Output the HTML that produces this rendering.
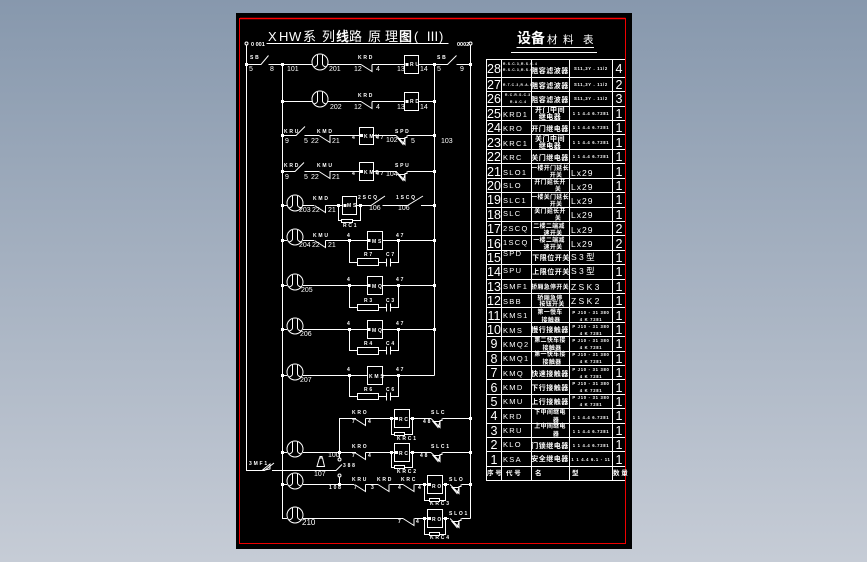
<!DOCTYPE html>
<html><head><meta charset="utf-8"><style>
html,body{margin:0;padding:0;width:867px;height:562px;overflow:hidden;background:linear-gradient(#8798ad,#c6ccd6)}
svg{display:block;position:absolute;left:0;top:0}
.l{fill:none;stroke:#fff;stroke-width:1}
text{fill:#fff;font-family:"Liberation Sans","Noto Sans CJK SC",sans-serif}
.s{font-size:5px;font-weight:bold;letter-spacing:1.8px;word-spacing:-3.200px}
.w{font-size:7px}
.n{font-size:12.500px;text-anchor:middle}
.c{font-size:7.500px;letter-spacing:1.300px}
.t{font-size:7px;font-weight:bold;text-anchor:middle;letter-spacing:.5px}
.a{font-size:6px;letter-spacing:.3px}
.y{font-size:4.200px;font-weight:bold;letter-spacing:.7px;text-anchor:middle}
.m{font-size:8.500px;letter-spacing:1px;word-spacing:-2px}
</style></head><body>
<svg width="867" height="562" viewBox="0 0 867 562">
<defs>
<g id="o" class="l"><circle cx="0" cy="0" r="8"/><path d="M-2.500-7V2Q-2.500 4-6 5M2.500-7V2Q2.500 4 6 5"/></g>
<g id="nc" class="l"><path d="M0 0L11 7V0"/></g>
<g id="ar" class="l"><path d="M0 0L9 9V2H11V0M2 3L9 3L7 9Z"/></g>
<rect id="d" x="-1.500" y="-1.500" width="3" height="3" fill="#fff"/>
</defs>
<rect x="236" y="13" width="396" height="536" fill="#000"/>
<path d="M239.500 18.500H625.500V543.500H239.500Z" fill="none" stroke="#e00" stroke-width="1"/>
<path d="M240 18.500H625.500" stroke="#f00" stroke-width="1.500"/>

<text font-size="13" y="41" x="268 279 289 303 322 336 349 368 385 399 414 426 439">XHW系列<tspan font-weight="bold">线</tspan>路原理<tspan font-weight="bold">图</tspan>(Ⅲ)</text>
<path class="l" d="M266.500 43.500H448.500"/>
<text x="251" y="46" style="font-size:5.500px;font-weight:bold">0 001</text>
<text x="457" y="46" style="font-size:5.500px;font-weight:bold">0002</text>
<g class="l">
<circle cx="246.500" cy="43.500" r="1.500"/><circle cx="470.500" cy="43.500" r="1.500"/>
<path d="M246.500 45V470.500H264.500L274 463M272 470.500H336L342 464.500"/>
<path d="M282.500 64V518.500H287"/>
<path d="M434.500 64V375.500"/>
<path d="M470.500 45V518.500"/>
<!-- row1 -->
<path d="M246.500 64.500H261L268.500 55.500M268.500 64.500H312M328 64.500H361M372 64.500H404M418.500 64.500H447.500L456.500 55.500M456.500 64.500H470.500"/>
<rect x="404.500" y="55.500" width="14" height="18"/>
<!-- row2 -->
<path d="M282.500 101.500H312M328 101.500H361M372 101.500H404M418.500 101.500H434.500"/>
<rect x="404.500" y="92.500" width="14" height="18"/>
<!-- row3 -->
<path d="M282.500 135.500H296L305 126.500M304.500 135.500H319M329.500 135.500H359M373.500 135.500H396M407.500 135.500H434.500"/>
<rect x="359.500" y="127.500" width="14" height="17"/>
<!-- row4 -->
<path d="M282.500 171.500H295L304 162.500M304.500 171.500H319M329.500 171.500H359M373.500 171.500H396M407.500 171.500H434.500"/>
<rect x="359.500" y="162.500" width="14" height="18"/>
<!-- row5 -->
<path d="M282.500 205.500H287M303 205.500H314M325.500 205.500H342M356.500 205.500H371L385 196M382.500 205.500H407.500L423 196M421 205.500H434.500"/>
<rect x="342.500" y="196.500" width="14" height="18"/>
<path d="M338.500 205.500V220.500H360.500V205.500"/>
<rect x="341.500" y="219.500" width="11" height="3" fill="#000"/>
<!-- row6 -->
<path d="M282.500 240.500H287M303 240.500H314M325.500 240.500H367M382.500 240.500H434.500M349.500 240.500V262.500H357.500M378.500 262.500H386.500M390.500 262.500H398.500V240.500M386.500 258.500V266.500M390.500 258.500V266.500"/>
<rect x="367.500" y="231.500" width="15" height="18"/><rect x="357.500" y="258.500" width="21" height="7"/>
<!-- row7 -->
<path d="M282.500 285.500H287M303 285.500H367M382.500 285.500H434.500M349.500 285.500V307.500H357.500M378.500 307.500H386.500M390.500 307.500H398.500V285.500M386.500 303.500V311.500M390.500 303.500V311.500"/>
<rect x="367.500" y="276.500" width="15" height="18"/><rect x="357.500" y="304.500" width="21" height="6"/>
<!-- row8 -->
<path d="M282.500 329.500H287M303 329.500H367M382.500 329.500H434.500M349.500 329.500V350.500H357.500M378.500 350.500H386.500M390.500 350.500H398.500V329.500M386.500 346.500V354.500M390.500 346.500V354.500"/>
<rect x="367.500" y="320.500" width="15" height="18"/><rect x="357.500" y="347.500" width="21" height="7"/>
<!-- row9 -->
<path d="M282.500 375.500H287M303 375.500H367M382.500 375.500H434.500M349.500 375.500V396.500H357.500M378.500 396.500H386.500M390.500 396.500H398.500V375.500M386.500 392.500V400.500M390.500 392.500V400.500"/>
<rect x="367.500" y="366.500" width="15" height="18"/><rect x="357.500" y="393.500" width="21" height="6"/>
<!-- row10 -->
<path d="M339.500 452V418.500H356M365.500 418.500H394M409.500 418.500H431M442.500 418.500H470.500"/>
<rect x="394.500" y="409.500" width="15" height="18"/>
<path d="M391.500 418.500V434.500H412.500V418.500"/><rect x="394.500" y="432.500" width="10" height="3" fill="#000"/>
<!-- row11 -->
<path d="M282.500 452.500H287M303 452.500H356M365.500 452.500H394M409.500 452.500H431M442.500 452.500H470.500"/>
<rect x="394.500" y="443.500" width="15" height="18"/>
<path d="M391.500 452.500V467.500H412.500V452.500"/><rect x="394.500" y="465.500" width="10" height="3" fill="#000"/>
<path d="M339.500 452V458M339.500 477V484.500"/>
<circle cx="339.500" cy="459.500" r="1.500"/><circle cx="339.500" cy="475.500" r="1.500"/>
<path d="M317 466.500H324.500L322.500 458H319.500ZM320 458V456.500H322V458"/>
<!-- row12 -->
<path d="M282.500 484.500H287M303 484.500H354M365.500 484.500H378M389.500 484.500H403M414.500 484.500H427M442.500 484.500H449M461.500 484.500H470.500"/>
<rect x="427.500" y="475.500" width="15" height="18"/>
<path d="M424.500 484.500V500.500H445.500V484.500"/><rect x="429.500" y="498.500" width="10" height="3" fill="#000"/>
<!-- row13 -->
<path d="M303 518.500H403M414.500 518.500H427M442.500 518.500H449M461.500 518.500H470.500"/>
<rect x="427.500" y="509.500" width="15" height="18"/>
<path d="M424.500 518.500V534.500H445.500V518.500"/><rect x="429.500" y="532.500" width="10" height="3" fill="#000"/>
<path d="M262 470.500L270 464L270 469Z"/>
</g>
<use href="#o" x="320" y="62"/><use href="#o" x="320" y="99"/>
<use href="#o" x="295" y="203"/><use href="#o" x="295" y="237"/><use href="#o" x="295" y="282"/><use href="#o" x="295" y="326"/><use href="#o" x="295" y="372"/><use href="#o" x="295" y="449"/><use href="#o" x="295" y="481"/><use href="#o" x="295" y="515"/>
<use href="#nc" x="361" y="64.500"/><use href="#nc" x="361" y="101.500"/>
<use href="#nc" x="319" y="135.500"/><use href="#nc" x="319" y="171.500"/><use href="#nc" x="314.500" y="205.500"/><use href="#nc" x="314.500" y="240.500"/>
<use href="#nc" x="354.500" y="418.500"/><use href="#nc" x="354.500" y="452.500"/><use href="#nc" x="354.500" y="484.500"/><use href="#nc" x="378" y="484.500"/><use href="#nc" x="403" y="484.500"/><use href="#nc" x="403" y="518.500"/>
<use href="#ar" x="396" y="135.500"/><use href="#ar" x="396" y="171.500"/><use href="#ar" x="431" y="418.500"/><use href="#ar" x="431" y="452.500"/><use href="#ar" x="450" y="484.500"/><use href="#ar" x="450" y="518.500"/>
<g fill="#fff">
<use href="#d" x="246.500" y="64.500"/><use href="#d" x="282.500" y="64.500"/><use href="#d" x="434.500" y="64.500"/><use href="#d" x="470.500" y="64.500"/>
<use href="#d" x="282.500" y="101.500"/><use href="#d" x="434.500" y="101.500"/><use href="#d" x="282.500" y="135.500"/><use href="#d" x="434.500" y="135.500"/><use href="#d" x="282.500" y="171.500"/><use href="#d" x="434.500" y="171.500"/>
<use href="#d" x="282.500" y="205.500"/><use href="#d" x="434.500" y="205.500"/><use href="#d" x="282.500" y="240.500"/><use href="#d" x="434.500" y="240.500"/><use href="#d" x="282.500" y="285.500"/><use href="#d" x="434.500" y="285.500"/><use href="#d" x="282.500" y="329.500"/><use href="#d" x="434.500" y="329.500"/><use href="#d" x="282.500" y="375.500"/>
<use href="#d" x="349.500" y="240.500"/><use href="#d" x="398.500" y="240.500"/><use href="#d" x="349.500" y="285.500"/><use href="#d" x="398.500" y="285.500"/><use href="#d" x="349.500" y="329.500"/><use href="#d" x="398.500" y="329.500"/><use href="#d" x="349.500" y="375.500"/><use href="#d" x="398.500" y="375.500"/>
<use href="#d" x="338.500" y="205.500"/><use href="#d" x="360.500" y="205.500"/>
<use href="#d" x="470.500" y="418.500"/><use href="#d" x="470.500" y="452.500"/><use href="#d" x="470.500" y="484.500"/><use href="#d" x="282.500" y="452.500"/><use href="#d" x="282.500" y="484.500"/><use href="#d" x="339.500" y="452.500"/><use href="#d" x="339.500" y="484.500"/>
<use href="#d" x="391.500" y="418.500"/><use href="#d" x="412.500" y="418.500"/><use href="#d" x="391.500" y="452.500"/><use href="#d" x="412.500" y="452.500"/><use href="#d" x="424.500" y="484.500"/><use href="#d" x="445.500" y="484.500"/><use href="#d" x="424.500" y="518.500"/><use href="#d" x="445.500" y="518.500"/>
<use href="#d" x="407" y="64.500"/><use href="#d" x="407" y="101.500"/><use href="#d" x="361.500" y="135.500"/><use href="#d" x="361.500" y="171.500"/><use href="#d" x="345" y="205.500"/><use href="#d" x="369" y="240.500"/><use href="#d" x="369" y="285.500"/><use href="#d" x="369" y="329.500"/><use href="#d" x="396.500" y="418.500"/><use href="#d" x="396.500" y="452.500"/><use href="#d" x="429.500" y="484.500"/><use href="#d" x="429.500" y="518.500"/>
</g>
<!-- circuit labels -->
<g class="s">
<text x="250" y="59">S B</text><text x="358" y="59">K R D</text><text x="410" y="66">R U</text><text x="437" y="59">S B</text>
<text x="358" y="97">K R D</text><text x="410" y="103">R D</text>
<text x="284" y="133">K R U</text><text x="317" y="133">K M D</text><text x="364" y="138">K M U</text><text x="395" y="133">S P D</text>
<text x="284" y="167">K R D</text><text x="317" y="167">K M U</text><text x="364" y="174">K M D</text><text x="395" y="167">S P U</text>
<text x="352" y="139">4</text><text x="376" y="139">4 7</text><text x="352" y="175">4</text><text x="376" y="175">4 7</text>
<text x="313" y="200">K M D</text><text x="347" y="207">M S</text><text x="358" y="199">2 S C Q</text><text x="396" y="199">1 S C Q</text><text x="343" y="227">R C 1</text>
<text x="313" y="237">K M U</text><text x="372" y="243">M S</text><text x="347" y="237">4</text><text x="396" y="237">4 7</text><text x="364" y="256">R 7</text><text x="386" y="256">C 7</text>
<text x="372" y="288">M Q</text><text x="347" y="281">4</text><text x="396" y="281">4 7</text><text x="364" y="302">R 3</text><text x="386" y="302">C 3</text>
<text x="372" y="332">M Q</text><text x="347" y="325">4</text><text x="396" y="325">4 7</text><text x="364" y="345">R 4</text><text x="386" y="345">C 4</text>
<text x="369" y="378">K M S</text><text x="347" y="371">4</text><text x="396" y="371">4 7</text><text x="364" y="391">R 6</text><text x="386" y="391">C 6</text>
<text x="352" y="414">K R O</text><text x="399" y="421">R C</text><text x="431" y="414">S L C</text><text x="397" y="440">K R C 1</text>
<text x="352" y="448">K R O</text><text x="399" y="455">R C</text><text x="431" y="448">S L C 1</text><text x="397" y="473">K R C 2</text>
<text x="352" y="481">K R U</text><text x="377" y="481">K R D</text><text x="401" y="481">K R C</text><text x="432" y="488">R O</text><text x="449" y="481">S L O</text><text x="430" y="505">K R C 3</text>
<text x="432" y="521">R O</text><text x="449" y="515">S L O 1</text><text x="430" y="539">K R C 4</text>
<text x="249" y="465">3 M F 1</text><text x="343" y="467">3 8 8</text><text x="329" y="489">1 0 8</text>
<text x="352" y="423">7</text><text x="368" y="423">4</text><text x="352" y="457">7</text><text x="368" y="457">4</text><text x="354" y="489">7</text><text x="371" y="489">3</text><text x="398" y="489">4</text><text x="418" y="489">4</text><text x="398" y="523">7</text><text x="416" y="523">4</text>
<text x="423" y="423">4 8</text><text x="420" y="457">4 8</text>
</g>
<g class="w">
<text x="249" y="71">5</text><text x="270" y="71">8</text><text x="287" y="71">101</text><text x="329" y="71">201</text><text x="354" y="71">12</text><text x="376" y="71">4</text><text x="397" y="71">13</text><text x="420" y="71">14</text><text x="437" y="71">5</text><text x="460" y="71">9</text>
<text x="330" y="109">202</text><text x="354" y="109">12</text><text x="376" y="109">4</text><text x="397" y="109">13</text><text x="420" y="109">14</text>
<text x="285" y="143">9</text><text x="304" y="143">5</text><text x="311" y="143">22</text><text x="332" y="143">21</text><text x="386" y="142">102</text><text x="411" y="143">5</text><text x="441" y="143">103</text>
<text x="285" y="179">9</text><text x="304" y="179">5</text><text x="311" y="179">22</text><text x="332" y="179">21</text><text x="386" y="176">104</text>
<text x="299" y="212">203</text><text x="312" y="212">22</text><text x="328" y="212">21</text><text x="369" y="210">106</text><text x="398" y="210">106</text>
<text x="299" y="247">204</text><text x="312" y="247">22</text><text x="328" y="247">21</text>
<text x="301" y="292">205</text><text x="300" y="336">206</text><text x="300" y="382">207</text>
<text x="328" y="457">100</text><text x="314" y="476">107</text><text x="302" y="525" style="font-size:8px">210</text>
</g>

<!-- table -->
<text y="43" font-size="14" font-weight="bold" x="517 531">设备</text><text y="43" font-size="10.500" x="547 563 583">材料表</text>
<path class="l" d="M516.500 47.500H594M511 52.500H597"/>
<g class="l">
<path d="M486.500 59.500H625.500M486.500 77.500H625.500M486.500 91.500H625.500M486.500 106.500H625.500M486.500 120.500H625.500M486.500 134.500H625.500M486.500 149.500H625.500M486.500 163.500H625.500M486.500 178.500H625.500M486.500 192.500H625.500M486.500 207.500H625.500M486.500 221.500H625.500M486.500 235.500H625.500M486.500 250.500H625.500M486.500 264.500H625.500M486.500 279.500H625.500M486.500 293.500H625.500M486.500 307.500H625.500M486.500 322.500H625.500M486.500 336.500H625.500M486.500 351.500H625.500M486.500 365.500H625.500M486.500 379.500H625.500M486.500 394.500H625.500M486.500 408.500H625.500M486.500 423.500H625.500M486.500 437.500H625.500M486.500 451.500H625.500M486.500 466.500H625.500M486.500 480.500H625.500"/>
<path d="M486.500 59V481M501.500 59V481M531.500 59V481M569.500 59V481M612.500 59V481"/>
</g>
<path d="M625.500 59V543" stroke="#e00" stroke-width="1"/>
<g class="n">
<text x="494" y="73">28</text><text x="494" y="89">27</text><text x="494" y="103">26</text><text x="494" y="118">25</text><text x="494" y="132">24</text><text x="494" y="147">23</text><text x="494" y="161">22</text><text x="494" y="176">21</text><text x="494" y="190">20</text><text x="494" y="204">19</text><text x="494" y="219">18</text><text x="494" y="233">17</text><text x="494" y="248">16</text><text x="494" y="262">15</text><text x="494" y="276">14</text><text x="494" y="291">13</text><text x="494" y="305">12</text><text x="494" y="320">11</text><text x="494" y="334">10</text><text x="494" y="348">9</text><text x="494" y="363">8</text><text x="494" y="377">7</text><text x="494" y="392">6</text><text x="494" y="406">5</text><text x="494" y="420">4</text><text x="494" y="435">3</text><text x="494" y="449">2</text><text x="494" y="464">1</text>
<text x="619" y="73">4</text><text x="619" y="89">2</text><text x="619" y="103">3</text><text x="619" y="118">1</text><text x="619" y="132">1</text><text x="619" y="147">1</text><text x="619" y="161">1</text><text x="619" y="176">1</text><text x="619" y="190">1</text><text x="619" y="204">1</text><text x="619" y="219">1</text><text x="619" y="233">2</text><text x="619" y="248">2</text><text x="619" y="262">1</text><text x="619" y="276">1</text><text x="619" y="291">1</text><text x="619" y="305">1</text><text x="619" y="320">1</text><text x="619" y="334">1</text><text x="619" y="348">1</text><text x="619" y="363">1</text><text x="619" y="377">1</text><text x="619" y="392">1</text><text x="619" y="406">1</text><text x="619" y="420">1</text><text x="619" y="435">1</text><text x="619" y="449">1</text><text x="619" y="464">1</text>
</g>
<g class="c">
<text x="503" y="117">KRD1</text><text x="503" y="131">KRO</text><text x="503" y="146">KRC1</text><text x="503" y="160">KRC</text><text x="503" y="175">SLO1</text><text x="503" y="188">SLO</text><text x="503" y="203">SLC1</text><text x="503" y="216">SLC</text><text x="503" y="231">2SCQ</text><text x="503" y="245">1SCQ</text><text x="503" y="256">SPD</text><text x="503" y="273">SPU</text><text x="503" y="289">SMF1</text><text x="503" y="304">SBB</text><text x="503" y="318">KMS1</text><text x="503" y="333">KMS</text><text x="503" y="347">KMQ2</text><text x="503" y="361">KMQ1</text><text x="503" y="376">KMQ</text><text x="503" y="390">KMD</text><text x="503" y="404">KMU</text><text x="503" y="419">KRD</text><text x="503" y="433">KRU</text><text x="503" y="447">KLO</text><text x="503" y="462">KSA</text>
</g>
<g class="s" style="font-size:3.300px;letter-spacing:.7px;word-spacing:0">
<text x="503" y="65">R.S.C.3,R.S.C.4</text><text x="503" y="71">R.S.C.3,R.S.C.5</text><text x="503" y="86">R.T.C.3,R.A.C.5</text><text x="505" y="96">R.C.R.S.C.3,</text><text x="510" y="103">R.A.C.4</text>
</g>
<g class="t">
<text x="550" y="73">阻容滤波器</text><text x="550" y="88">阻容滤波器</text><text x="550" y="102">阻容滤波器</text>
<text x="550" y="112">开门中间</text><text x="550" y="119">继电器</text>
<text x="550" y="131">开门继电器</text>
<text x="550" y="141">关门中间</text><text x="550" y="148">继电器</text>
<text x="550" y="160">关门继电器</text>
<text class="a" x="550" y="170">一楼开门延长</text><text class="a" x="556" y="177">开关</text>
<text class="a" x="550" y="184">开门延长开</text><text class="a" x="558" y="191">关</text>
<text class="a" x="550" y="199">一楼关门延长</text><text class="a" x="556" y="206">开关</text>
<text class="a" x="550" y="213">关门延长开</text><text class="a" x="558" y="220">关</text>
<text class="a" x="549" y="228">二楼二端减</text><text class="a" x="553" y="235">速开关</text>
<text class="a" x="549" y="242">一楼二端减</text><text class="a" x="553" y="249">速开关</text>
<text x="551" y="260">下限位开关</text><text x="551" y="274">上限位开关</text>
<text class="a" x="550" y="289">轿厢急停开关</text>
<text class="a" x="550" y="300">轿厢急停</text><text class="a" x="552" y="306">按钮开关</text>
<text class="a" x="550" y="314">第一慢车</text><text class="a" x="551" y="322">接触器</text>
<text x="550" y="332">慢行接触器</text>
<text class="a" x="550" y="342">第二快车接</text><text class="a" x="552" y="350">接触器</text>
<text class="a" x="550" y="356">第一快车接</text><text class="a" x="552" y="364">接触器</text>
<text x="550" y="376">快速接触器</text>
<text x="550" y="390">下行接触器</text>
<text x="550" y="404">上行接触器</text>
<text class="a" x="550" y="414">下中间继电</text><text class="a" x="556" y="422">器</text>
<text class="a" x="550" y="428">上中间继电</text><text class="a" x="556" y="436">器</text>
<text x="550" y="448">门锁继电器</text>
<text x="550" y="461">安全继电器</text>
</g>
<g class="y">
<text x="591" y="70">S11,3Y . 11/2</text><text x="591" y="86">S11,3Y . 11/2</text><text x="591" y="100">S11,3Y . 11/2</text>
<text x="591" y="115">1 1 4.4 6.7281</text><text x="591" y="129">1 1 4.4 6.7281</text><text x="591" y="144">1 1 4.4 6.7281</text><text x="591" y="158">1 1 4.4 6.7281</text>
<text x="591" y="314">P J10 - 31 380</text><text x="591" y="321">4 K 7281</text><text x="591" y="328">P J10 - 31 380</text><text x="591" y="335">4 K 7281</text><text x="591" y="342">P J10 - 31 380</text><text x="591" y="349">4 K 7281</text><text x="591" y="356">P J10 - 31 380</text><text x="591" y="363">4 K 7281</text><text x="591" y="371">P J10 - 31 380</text><text x="591" y="378">4 K 7281</text><text x="591" y="385">P J10 - 31 380</text><text x="591" y="392">4 K 7281</text><text x="591" y="399">P J10 - 31 380</text><text x="591" y="406">4 K 7281</text>
<text x="591" y="419">1 1 4.4 6.7281</text><text x="591" y="433">1 1 4.4 6.7281</text><text x="591" y="447">1 1 4.4 6.7281</text><text x="591" y="461">1 1 4.4 6.1 - 11</text>
</g>
<g class="m">
<text x="571" y="176">Lx29</text><text x="571" y="190">Lx29</text><text x="571" y="204">Lx29</text><text x="571" y="218">Lx29</text><text x="571" y="233">Lx29</text><text x="571" y="247">Lx29</text>
<text x="571" y="260">S 3 型</text><text x="571" y="274">S 3 型</text><text x="571" y="290">Z S K 3</text><text x="571" y="304">Z S K 2</text>
</g>
<g font-size="6.500" font-weight="bold">
<text x="487" y="475">序 号</text><text x="506" y="475">代  号</text><text x="535" y="475">名</text><text x="572" y="475">型</text><text x="613" y="475">数 量</text>
</g>
</svg>
</body></html>
